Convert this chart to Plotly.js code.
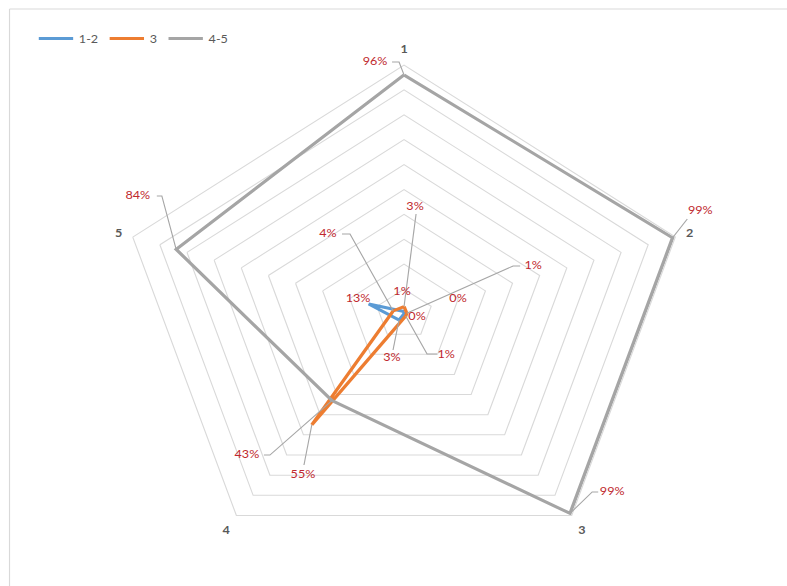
<!DOCTYPE html>
<html>
<head>
<meta charset="utf-8">
<script src="https://cdn.plot.ly/plotly-3.0.1.min.js"></script>
<style>
  html, body { margin: 0; padding: 0; background: #ffffff; overflow: hidden; }
  #wrap { width: 787px; height: 586px; overflow: hidden; position: relative; }
  #chart { width: 687px; height: 700px; transform: scaleX(1.14556); transform-origin: 0 0; }
</style>
</head>
<body>
<div id="wrap"><div id="chart"></div></div>
<script>
// ---- data ----
const categories = ['1', '2', '3', '4', '5'];
const seriesNames = ['1-2', '3', '4-5'];
const values12 = [0.01, 0.00, 0.00, 0.03, 0.13];
const values3  = [0.03, 0.01, 0.01, 0.55, 0.04];
const values45 = [0.96, 0.99, 0.99, 0.43, 0.84];

// ---- styles ----
const seriesColors = ['#5b9bd5', '#ed7d31', '#a5a5a5'];
const labelColor = '#c0282d';
const gridColor = '#d9d9d9';
const textGray = '#595959';
const fontFamily = 'Lato, "Open Sans", sans-serif';

// data-label placement (polar r, angle in degrees clockwise from axis "1")
// s: series index, i: category index, t: text position, l: leader waypoints
const labelPlacement = [
  {s: 2, i: 0, t: [1.0172, -5.74],  l: [[1.0122, -0.99], [1.0129, -2.38]]},
  {s: 2, i: 1, t: [1.1179, 68.28],  l: [[1.0638, 68.98]]},
  {s: 2, i: 2, t: [1.0216, 134.41], l: [[0.9727, 137.30], [0.9871, 136.40]]},
  {s: 2, i: 3, t: [0.7900, 224.21], l: [[0.7360, 219.71], [0.7497, 220.94]]},
  {s: 2, i: 4, t: [1.0468, 296.92], l: [[0.9724, 299.17], [0.9878, 298.67]]},
  {s: 1, i: 3, t: [0.7373, 208.73], l: [[0.7006, 210.05]]},
  {s: 1, i: 0, t: [0.4315, 5.13],   l: [[0.4038, 5.99]]},
  {s: 1, i: 4, t: [0.4175, 320.31], l: [[0.3730, 329.47], [0.3880, 325.90]]},
  {s: 1, i: 1, t: [0.4920, 66.93],  l: [[0.4283, 63.25], [0.4504, 64.65]]},
  {s: 1, i: 2, t: [0.2210, 138.17], l: [[0.1798, 153.33], [0.1980, 144.22]]},
  {s: 0, i: 3, t: [0.1817, 193.40], l: [[0.1496, 194.95]]},
  {s: 0, i: 4, t: [0.1723, 290.47], l: []},
  {s: 0, i: 0, t: [0.0886, 355.46], l: []},
  {s: 0, i: 1, t: [0.0472, 104.80], l: []},
  {s: 0, i: 2, t: [0.1988, 72.36],  l: []}
];

const allValues = [values12, values3, values45];
const traces = [];

// series lines on the category polar axis
allValues.forEach(function (vals, k) {
  traces.push({
    type: 'scatterpolar',
    subplot: 'polar',
    mode: 'lines',
    name: seriesNames[k],
    r: vals.concat([vals[0]]),
    theta: categories.concat([categories[0]]),
    line: {color: seriesColors[k], width: 3},
    hoverinfo: 'skip'
  });
});

// leader lines and data labels on the overlaid numeric polar axis
const stepDeg = 360 / categories.length;
labelPlacement.forEach(function (p) {
  const v = allValues[p.s][p.i];
  if (p.l.length) {
    const rs = [v], ths = [p.i * stepDeg];
    p.l.forEach(function (w) { rs.push(w[0]); ths.push(w[1]); });
    traces.push({
      type: 'scatterpolar', subplot: 'polar2', mode: 'lines',
      r: rs, theta: ths, thetaunit: 'degrees',
      line: {color: '#a6a6a6', width: 1},
      showlegend: false, hoverinfo: 'skip', cliponaxis: false
    });
  }
  traces.push({
    type: 'scatterpolar', subplot: 'polar2', mode: 'text',
    r: [p.t[0]], theta: [p.t[1]], thetaunit: 'degrees',
    text: [Math.round(v * 100) + '%'],
    textposition: 'middle center',
    textfont: {family: fontFamily, size: 11, color: labelColor},
    showlegend: false, hoverinfo: 'skip', cliponaxis: false
  });
});

// chart geometry (un-stretched px): centre (352.7, 314 from top), radius 249; div 687 x 700
const H = 700, W = 687, CX = 352.7, CY = H - 314, R = 249, R2 = R * 1.2;
const dom  = {x: [(CX - R) / W,  (CX + R) / W],  y: [(CY - R) / H,  (CY + R) / H]};
const dom2 = {x: [(CX - R2) / W, (CX + R2) / W], y: [(CY - R2) / H, (CY + R2) / H]};
const topY = (H - 9) / H, leftX = 8.3 / W;

const layout = {
  width: W, height: H,
  margin: {l: 0, r: 0, t: 0, b: 0},
  paper_bgcolor: '#ffffff',
  font: {family: fontFamily, color: textGray, size: 11},
  showlegend: true,
  legend: {
    orientation: 'h', x: 0.042, y: (H - 24) / H, xanchor: 'left', yanchor: 'top',
    font: {family: fontFamily, size: 11, color: textGray},
    bgcolor: 'rgba(0,0,0,0)', itemwidth: 30, tracegroupgap: 0
  },
  polar: {
    domain: dom,
    bgcolor: '#ffffff',
    gridshape: 'linear',
    angularaxis: {
      type: 'category', categoryorder: 'array', categoryarray: categories,
      direction: 'clockwise', rotation: 90,
      showgrid: false, showline: true, linecolor: gridColor, linewidth: 1,
      ticks: 'outside', ticklen: 7, tickcolor: 'rgba(0,0,0,0)',
      tickfont: {family: fontFamily, size: 11, color: textGray, weight: 'bold'}
    },
    radialaxis: {
      range: [0, 1], tick0: 0, dtick: 0.1,
      showticklabels: false, ticks: '', showline: false,
      gridcolor: gridColor, gridwidth: 1
    }
  },
  polar2: {
    domain: dom2,
    bgcolor: 'rgba(0,0,0,0)',
    angularaxis: {type: 'linear', direction: 'clockwise', rotation: 90, visible: false, showgrid: false, showline: false},
    radialaxis: {range: [0, 1.2], visible: false, showgrid: false, showline: false}
  },
  shapes: [
    {type: 'line', xref: 'paper', yref: 'paper', x0: leftX, x1: 1.01, y0: topY, y1: topY, line: {color: gridColor, width: 1}},
    {type: 'line', xref: 'paper', yref: 'paper', x0: leftX, x1: leftX, y0: -0.01, y1: topY, line: {color: gridColor, width: 1}}
  ]
};

Plotly.newPlot('chart', traces, layout, {displayModeBar: false, responsive: false});
</script>
</body>
</html>
